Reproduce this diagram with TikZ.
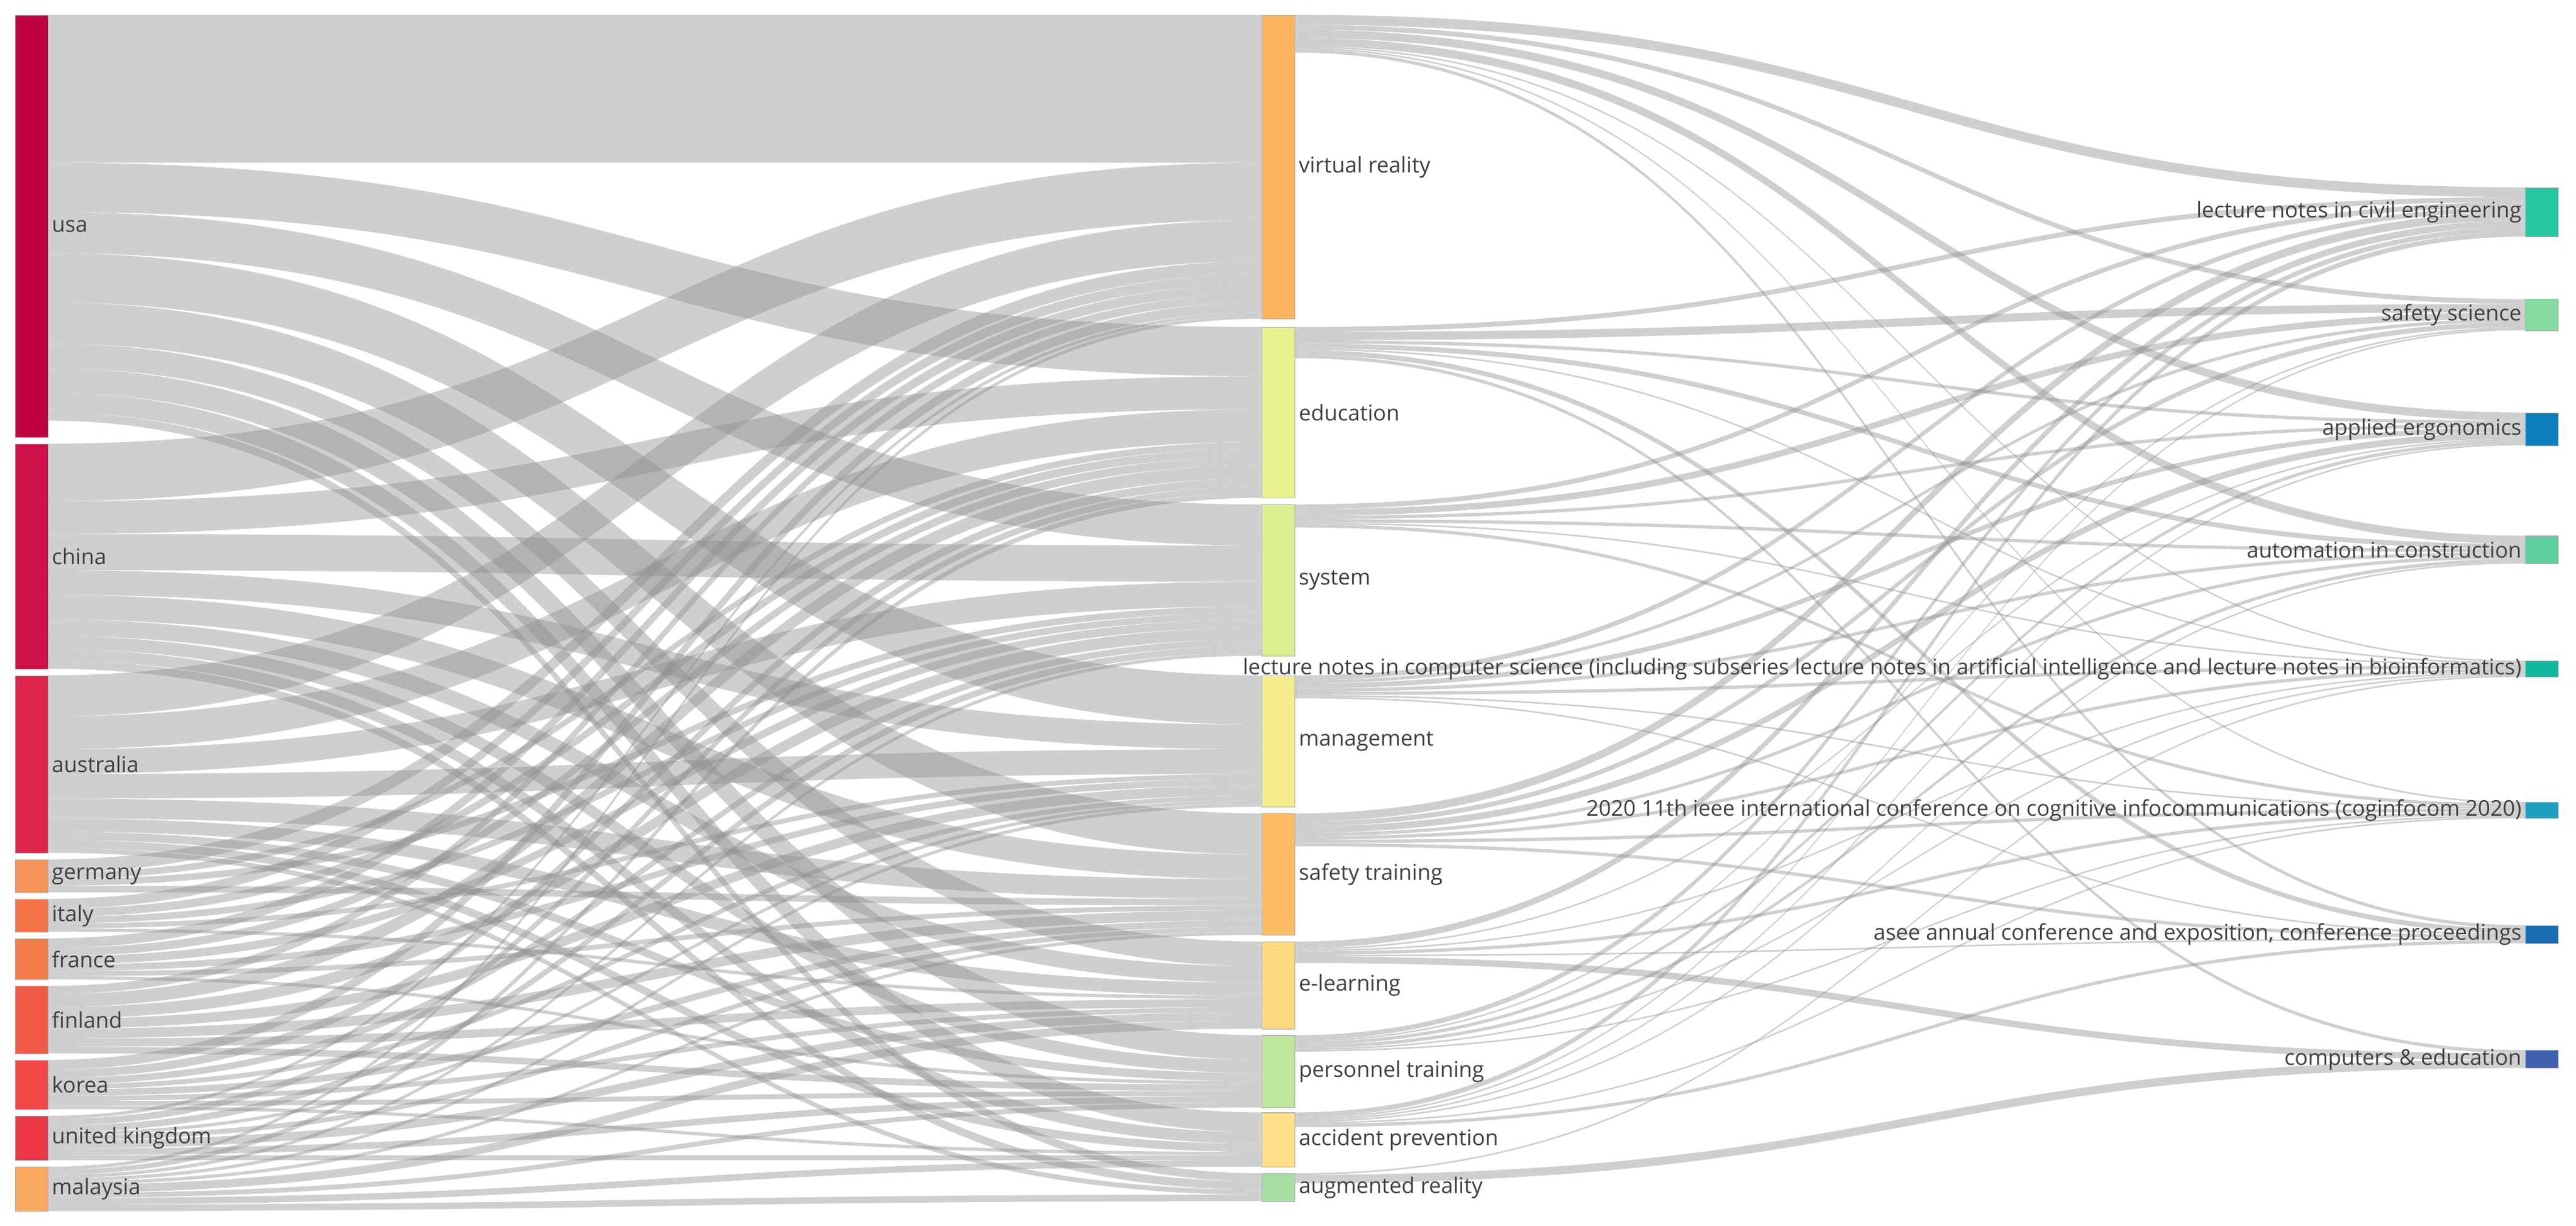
\documentclass[tikz,border=0pt]{standalone}
\usepackage{fontspec}
\setmainfont{Open Sans}
\usetikzlibrary{positioning}

\definecolor{cusa}{HTML}{BE0040}\definecolor{cchn}{HTML}{D01048}\definecolor{caus}{HTML}{E0244C}
\definecolor{cger}{HTML}{F6935A}\definecolor{cita}{HTML}{F57448}\definecolor{cfra}{HTML}{F57B48}
\definecolor{cfin}{HTML}{F25A48}\definecolor{ckor}{HTML}{F44848}\definecolor{cuk}{HTML}{EC3848}
\definecolor{cmal}{HTML}{F8A860}
\definecolor{cvr}{HTML}{FDB55F}\definecolor{cedu}{HTML}{E8F28E}\definecolor{csys}{HTML}{DAF08E}
\definecolor{cman}{HTML}{F4EC8C}\definecolor{cst}{HTML}{FDBC62}\definecolor{cel}{HTML}{FED880}
\definecolor{cpt}{HTML}{BDE79A}\definecolor{cap}{HTML}{FEE08A}\definecolor{car}{HTML}{A5DEA0}
\definecolor{clnce}{HTML}{26C6A0}\definecolor{css}{HTML}{86DCA0}\definecolor{cae}{HTML}{0A7FBA}
\definecolor{caic}{HTML}{5ED0A0}\definecolor{clncs}{HTML}{10B8A0}\definecolor{cieee}{HTML}{1E9FC0}
\definecolor{casee}{HTML}{1A6FB0}\definecolor{cce}{HTML}{4060B0}

% node bookkeeping: left x, top y, running offsets
\newcommand\setnode[3]{%
  \expandafter\xdef\csname xl#1\endcsname{#2}%
  \pgfmathsetmacro\tmp{#2+20}\expandafter\xdef\csname xr#1\endcsname{\tmp}%
  \expandafter\xdef\csname out#1\endcsname{#3}%
  \expandafter\xdef\csname in#1\endcsname{#3}}
\newcommand\flow[3]{%
  \pgfmathsetmacro\ya{\csname out#1\endcsname}%
  \pgfmathsetmacro\yb{\csname in#2\endcsname}%
  \pgfmathsetmacro\xa{\csname xr#1\endcsname}%
  \pgfmathsetmacro\xb{\csname xl#2\endcsname}%
  \pgfmathsetmacro\xm{(\xa+\xb)/2}%
  \fill[link] (\xa,\ya) .. controls (\xm,\ya) and (\xm,\yb) .. (\xb,\yb)
    -- (\xb,\yb+#3) .. controls (\xm,\yb+#3) and (\xm,\ya+#3) .. (\xa,\ya+#3) -- cycle;
  \pgfmathsetmacro\tmp{\ya+#3}\expandafter\xdef\csname out#1\endcsname{\tmp}%
  \pgfmathsetmacro\tmp{\yb+#3}\expandafter\xdef\csname in#2\endcsname{\tmp}}

\tikzset{
  link/.style={fill=black!45, fill opacity=0.42},
  bar/.style={draw=black!30, line width=0.4pt, inner sep=0pt, minimum width=20pt, anchor=north west},
  lab/.style={text=black!75, font=\fontsize{13.2}{15}\selectfont, inner sep=2pt}
}

\begin{document}
\begin{tikzpicture}[x=1pt,y=-1pt]
\useasboundingbox (0,0) rectangle (1568,746);

% columns
\setnode{usa}{9}{9}\setnode{chn}{9}{270}\setnode{aus}{9}{411}\setnode{ger}{9}{523}
\setnode{ita}{9}{547}\setnode{fra}{9}{571}\setnode{fin}{9}{600}\setnode{kor}{9}{645}
\setnode{uk}{9}{679}\setnode{mal}{9}{710}
\setnode{vr}{768}{9}\setnode{edu}{768}{199}\setnode{sys}{768}{307}\setnode{man}{768}{411}
\setnode{st}{768}{495}\setnode{el}{768}{573}\setnode{pt}{768}{630}\setnode{ap}{768}{677}
\setnode{ar}{768}{714}
\setnode{lnce}{1537}{114}\setnode{ss}{1537}{182}\setnode{ae}{1537}{251}\setnode{aic}{1537}{326}
\setnode{lncs}{1537}{402}\setnode{ieee}{1537}{488}\setnode{asee}{1537}{563}\setnode{ce}{1537}{639}

% countries -> keywords
\foreach \d/\w in {vr/90,edu/30,sys/25,man/30,st/25,el/15,pt/15,ap/12,ar/5} {\flow{usa}{\d}{\w}}
\foreach \d/\w in {vr/35,edu/20,sys/22,man/15,st/15,el/10,pt/8,ap/7,ar/5} {\flow{chn}{\d}{\w}}
\foreach \d/\w in {vr/25,edu/20,sys/15,man/15,st/12,el/8,pt/5,ap/5,ar/3} {\flow{aus}{\d}{\w}}
\foreach \d/\w in {vr/8,edu/4,sys/4,st/4} {\flow{ger}{\d}{\w}}
\foreach \d/\w in {vr/6,edu/5,sys/4,man/3,el/2} {\flow{ita}{\d}{\w}}
\foreach \d/\w in {vr/6,edu/5,sys/5,man/4,st/3,pt/2} {\flow{fra}{\d}{\w}}
\foreach \d/\w in {vr/5,edu/8,sys/7,man/6,st/6,el/5,pt/4} {\flow{fin}{\d}{\w}}
\foreach \d/\w in {vr/6,edu/5,sys/4,man/3,st/4,el/3,pt/3,ap/2} {\flow{kor}{\d}{\w}}
\foreach \d/\w in {vr/2,edu/4,sys/4,man/2,st/3,el/5,pt/4,ap/3} {\flow{uk}{\d}{\w}}
\foreach \d/\w in {vr/2,edu/3,sys/2,man/2,st/2,el/5,pt/3,ap/4,ar/4} {\flow{mal}{\d}{\w}}

% keywords -> sources
\foreach \d/\w in {lnce/6,ss/3,ae/5,aic/5,lncs/1,ieee/1,asee/2} {\flow{vr}{\d}{\w}}
\foreach \d/\w in {lnce/3,ss/5,ae/2,aic/3,lncs/1,asee/3,ce/2} {\flow{edu}{\d}{\w}}
\foreach \d/\w in {lnce/3,ss/4,ae/2,aic/2,lncs/1,ieee/2} {\flow{sys}{\d}{\w}}
\foreach \d/\w in {lnce/3,ss/2,ae/3,aic/2,lncs/2,ieee/1,asee/1} {\flow{man}{\d}{\w}}
\foreach \d/\w in {lnce/5,ss/3,ae/4,aic/2,lncs/2,ieee/2,asee/2} {\flow{st}{\d}{\w}}
\foreach \d/\w in {lnce/4,ae/1,lncs/1,ieee/2,asee/1,ce/4} {\flow{el}{\d}{\w}}
\foreach \d/\w in {lnce/3,ss/1,ae/2,aic/2,lncs/1,ieee/1} {\flow{pt}{\d}{\w}}
\foreach \d/\w in {lnce/3,ss/1,ae/1,aic/1,ieee/1,asee/2} {\flow{ap}{\d}{\w}}
\foreach \d/\w in {lncs/1,ce/5} {\flow{ar}{\d}{\w}}

% left nodes
\foreach \k/\t/\h/\n in {usa/9/257/usa,chn/270/137/china,aus/411/108/australia,ger/523/20/germany,
  ita/547/20/italy,fra/571/25/france,fin/600/41/finland,kor/645/30/korea,uk/679/27/united kingdom,mal/710/27/malaysia}
  \node (\k) [bar, fill=c\k, minimum height=\h pt, label={[lab]east:\n}] at (9,\t) {};
% middle nodes
\foreach \k/\t/\h/\n in {vr/9/185/virtual reality,edu/199/104/education,sys/307/92/system,man/411/80/management,
  st/495/74/safety training,el/573/53/e-learning,pt/630/44/personnel training,ap/677/33/accident prevention,ar/714/17/augmented reality}
  \node (\k) [bar, fill=c\k, minimum height=\h pt, label={[lab]east:\n}] at (768,\t) {};
% right nodes
\foreach \k/\t/\h/\n in {lnce/114/30/lecture notes in civil engineering,ss/182/19/safety science,ae/251/20/applied ergonomics,
  aic/326/17/automation in construction,
  lncs/402/10/lecture notes in computer science (including subseries lecture notes in artificial intelligence and lecture notes in bioinformatics),
  ieee/488/10/2020 11th ieee international conference on cognitive infocommunications (coginfocom 2020),
  asee/563/11/{asee annual conference and exposition, conference proceedings},ce/639/11/computers \& education}
  \node (\k) [bar, fill=c\k, minimum height=\h pt, label={[lab]west:\n}] at (1537,\t) {};
\end{tikzpicture}
\end{document}
